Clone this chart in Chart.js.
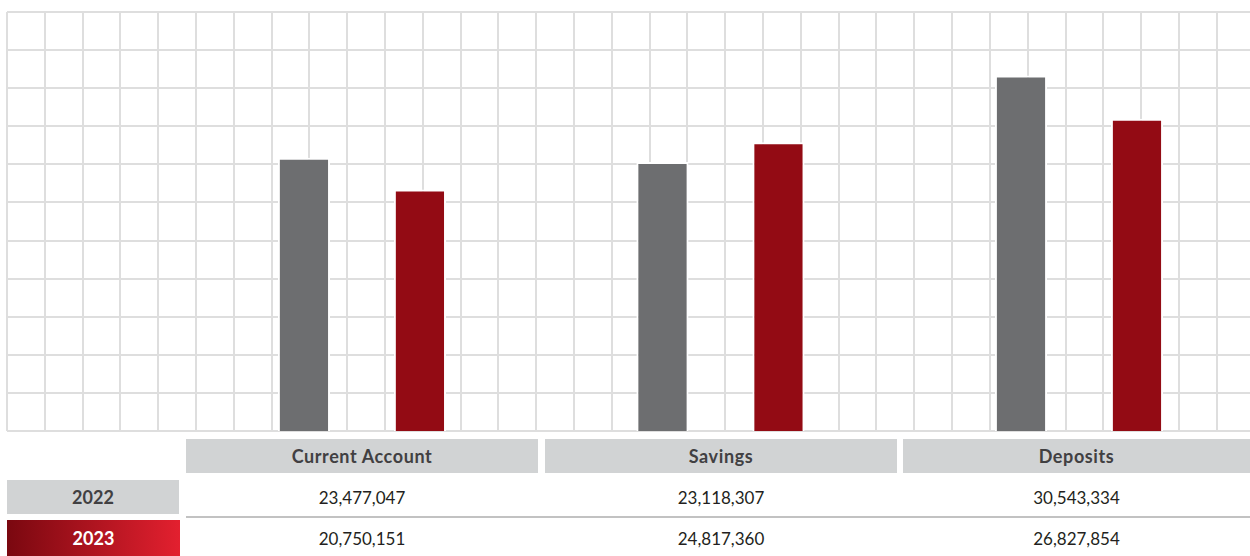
<!DOCTYPE html>
<html>
<head>
<meta charset="utf-8">
<script src="https://cdn.jsdelivr.net/npm/chart.js@4"></script>
<style>
  body { margin: 0; background: #fff; font-family: Lato, "Open Sans", sans-serif; }
  #wrap { position: relative; width: 1250px; height: 556px; overflow: hidden; }
  #chartBox { position: absolute; left: 0; top: 0; width: 1250px; height: 434px; }
  .cell { position: absolute; display: flex; align-items: center; justify-content: center; }
  .head { background: #d1d3d4; color: #414042; font-weight: 700; font-size: 18px; letter-spacing: 0.6px; }
  .year { color: #414042; font-weight: 700; font-size: 18px; }
  .y2022 { background: #d1d3d4; }
  .y2023 { background: linear-gradient(to right, #7a0810, #e3202f); color: #fff; }
  .val { color: #231f20; font-size: 17px; }
  #sep { position: absolute; left: 186px; top: 516px; width: 1064px; height: 2px; background: #c2c2c2; }
</style>
</head>
<body>
<div id="wrap">
  <div id="chartBox"><canvas id="chart"></canvas></div>
  <div id="sep"></div>
</div>
<script>
const categories = ["Current Account", "Savings", "Deposits"];
const years = ["2022", "2023"];
const values2022 = [23477047, 23118307, 30543334];
const values2023 = [20750151, 24817360, 26827854];
const seriesColors = ["#6d6e70", "#930b14"];

function toPoints(values) {
  return values.map((v, i) => ({ x: i + 1, y: v }));
}

new Chart(document.getElementById("chart").getContext("2d"), {
  type: "bar",
  data: {
    datasets: [
      {
        label: years[0],
        data: toPoints(values2022),
        backgroundColor: seriesColors[0],
        borderColor: "#ffffff",
        borderWidth: { top: 2, left: 2, right: 2, bottom: 0 },
        borderSkipped: false,
        categoryPercentage: 0.647,
        barPercentage: 0.45,
      },
      {
        label: years[1],
        data: toPoints(values2023),
        backgroundColor: seriesColors[1],
        borderColor: "#ffffff",
        borderWidth: { top: 2, left: 2, right: 2, bottom: 0 },
        borderSkipped: false,
        categoryPercentage: 0.647,
        barPercentage: 0.45,
      },
    ],
  },
  options: {
    responsive: true,
    maintainAspectRatio: false,
    animation: false,
    layout: { padding: { left: 7, top: 12, right: 0, bottom: 3 } },
    plugins: { legend: { display: false }, tooltip: { enabled: false } },
    scales: {
      x: {
        type: "linear",
        display: false,
        offset: false,
        min: 0.01,
        max: 3.477,
        ticks: { stepSize: 1, includeBounds: false },
      },
      y: {
        display: false,
        min: 0,
        max: 36000000,
      },
      gridX: {
        type: "linear",
        axis: "x",
        position: "bottom",
        offset: false,
        min: 0,
        max: 32.88,
        ticks: { display: false, stepSize: 1, includeBounds: false },
        grid: { color: "#dedede", lineWidth: 2, drawTicks: false, offset: false },
        border: { display: false },
      },
      gridY: {
        type: "linear",
        axis: "y",
        position: "left",
        min: 0,
        max: 11,
        ticks: { display: false, stepSize: 1 },
        grid: { color: "#dedede", lineWidth: 2, drawTicks: false },
        border: { display: false },
      },
    },
  },
});

// table under the chart
const wrap = document.getElementById("wrap");
const colLeft = [186, 545, 903];
const colWidth = [352, 352, 347];

function addCell(cls, text, left, top, width, height) {
  const d = document.createElement("div");
  d.className = "cell " + cls;
  d.textContent = text;
  d.style.left = left + "px";
  d.style.top = top + "px";
  d.style.width = width + "px";
  d.style.height = height + "px";
  wrap.appendChild(d);
}

categories.forEach((c, i) => addCell("head", c, colLeft[i], 439, colWidth[i], 34));
addCell("year y2022", years[0], 7, 480, 172, 34);
addCell("year y2023", years[1], 7, 520, 173, 36);
values2022.forEach((v, i) =>
  addCell("val", v.toLocaleString("en-US"), colLeft[i], 480, colWidth[i], 34)
);
values2023.forEach((v, i) =>
  addCell("val", v.toLocaleString("en-US"), colLeft[i], 520, colWidth[i], 36)
);
</script>
</body>
</html>
